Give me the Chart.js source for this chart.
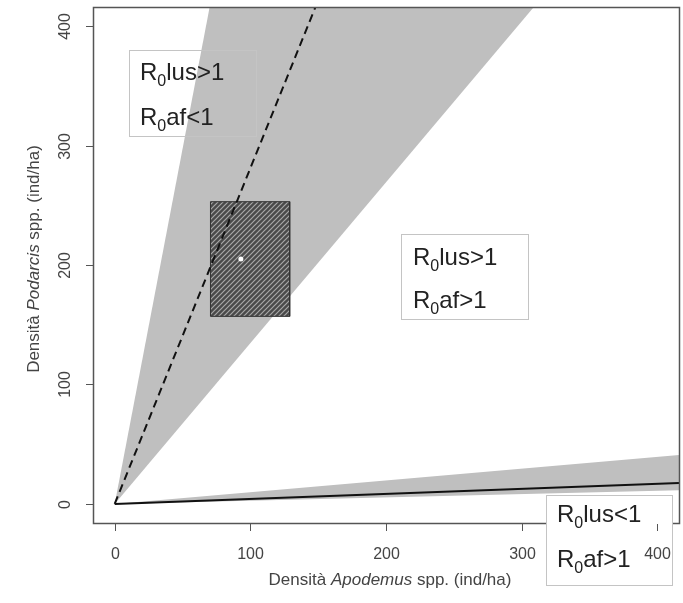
<!DOCTYPE html>
<html>
<head>
<meta charset="utf-8">
<script src="https://cdn.jsdelivr.net/npm/chart.js@4"></script>
<style>
  body { margin: 0; background: #fff; }
  .wrap { width: 683px; height: 603px; position: relative; }
</style>
</head>
<body>
<div class="wrap"><canvas id="densityChart"></canvas></div>
<script>
// Apodemus (x) vs Podarcis (y) density, ind/ha
const axisTicks = [0, 100, 200, 300, 400];

// upper shaded wedge
const upperWedgeX = [0, 70, 309, 0];
const upperWedgeY = [0, 416, 416, 0];
// lower shaded wedge
const lowerWedgeX = [0, 416, 416, 0];
const lowerWedgeY = [0, 41, 11.5, 0];
// threshold lines
const dashedLineX = [0, 148];
const dashedLineY = [0, 416];
const solidLineX = [0, 416];
const solidLineY = [0, 17.5];
// observed range (hatched box) and mean
const rangeX = [70.6, 70.6, 129, 129, 70.6];
const rangeY = [157, 253, 253, 157, 157];
const meanX = [93];
const meanY = [205];

const FONT = '"Liberation Sans", Arial, sans-serif';

const pts = (xs, ys) => xs.map((x, i) => ({ x: x, y: ys[i] }));

function hatchPattern() {
  const c = document.createElement('canvas');
  c.width = 5;
  c.height = 5;
  const g = c.getContext('2d');
  g.fillStyle = '#4a4a4a';
  g.fillRect(0, 0, 5, 5);
  g.strokeStyle = '#a8a8a8';
  g.lineWidth = 1.2;
  g.beginPath();
  g.moveTo(0, 5); g.lineTo(5, 0);
  g.moveTo(-1, 1); g.lineTo(1, -1);
  g.moveTo(4, 6); g.lineTo(6, 4);
  g.stroke();
  return g.createPattern(c, 'repeat');
}

// text boxes with the R0 conditions
const regionBoxes = [
  { left: 129.5, top: 50.5, w: 127, h: 86, x: 140, y1: 80, y2: 125, l1: 'lus>1', l2: 'af<1', fill: false },
  { left: 401.5, top: 234.5, w: 127, h: 85, x: 413, y1: 265, y2: 308, l1: 'lus>1', l2: 'af>1', fill: false },
  { left: 546.5, top: 495.5, w: 126, h: 90, x: 557, y1: 522, y2: 567, l1: 'lus<1', l2: 'af>1', fill: true }
];

function drawR0(ctx, x, y, rest) {
  ctx.textAlign = 'left';
  ctx.textBaseline = 'alphabetic';
  ctx.font = '24px ' + FONT;
  ctx.fillText('R', x, y);
  let w = ctx.measureText('R').width;
  ctx.font = '16px ' + FONT;
  ctx.fillText('0', x + w, y + 6);
  w += ctx.measureText('0').width;
  ctx.font = '24px ' + FONT;
  ctx.fillText(rest, x + w, y);
}

function drawParts(ctx, parts, cx, cy) {
  const f = it => (it ? 'italic ' : '') + '17px ' + FONT;
  let total = 0;
  parts.forEach(p => { ctx.font = f(p[1]); total += ctx.measureText(p[0]).width; });
  let x = cx - total / 2;
  parts.forEach(p => {
    ctx.font = f(p[1]);
    ctx.fillText(p[0], x, cy);
    x += ctx.measureText(p[0]).width;
  });
}

const axesPlugin = {
  id: 'rAxes',
  afterDraw(chart) {
    const ctx = chart.ctx;
    const a = chart.chartArea;
    const xs = chart.scales.x;
    const ys = chart.scales.y;
    ctx.save();

    // plot frame
    ctx.strokeStyle = '#555';
    ctx.lineWidth = 1.5;
    ctx.strokeRect(a.left + 0.5, a.top + 0.5, a.right - a.left, a.bottom - a.top);

    // condition boxes
    regionBoxes.forEach(b => {
      if (b.fill) {
        ctx.fillStyle = '#fff';
        ctx.fillRect(b.left, b.top, b.w, b.h);
      }
      ctx.strokeStyle = '#c4c4c4';
      ctx.lineWidth = 1;
      ctx.strokeRect(b.left, b.top, b.w, b.h);
      ctx.fillStyle = '#222';
      drawR0(ctx, b.x, b.y1, b.l1);
      drawR0(ctx, b.x, b.y2, b.l2);
    });

    // ticks and tick labels
    ctx.strokeStyle = '#555';
    ctx.lineWidth = 1;
    ctx.fillStyle = '#444';
    ctx.font = '16px ' + FONT;
    ctx.textAlign = 'center';
    ctx.textBaseline = 'middle';
    axisTicks.forEach(v => {
      const px = Math.round(xs.getPixelForValue(v)) + 0.5;
      ctx.beginPath();
      ctx.moveTo(px, a.bottom + 1);
      ctx.lineTo(px, a.bottom + 8);
      ctx.stroke();
      ctx.fillText(String(v), px, a.bottom + 32);

      const py = Math.round(ys.getPixelForValue(v)) + 0.5;
      ctx.beginPath();
      ctx.moveTo(a.left - 7, py);
      ctx.lineTo(a.left, py);
      ctx.stroke();
      ctx.save();
      ctx.translate(a.left - 27, py);
      ctx.rotate(-Math.PI / 2);
      ctx.fillText(String(v), 0, 0);
      ctx.restore();
    });

    // axis titles
    ctx.fillStyle = '#444';
    ctx.textAlign = 'left';
    drawParts(ctx, [['Densità ', false], ['Apodemus', true], [' spp. (ind/ha)', false]],
      (a.left + a.right) / 2 + 4, a.bottom + 57);
    ctx.save();
    ctx.translate(a.left - 59, (a.top + a.bottom) / 2 - 6);
    ctx.rotate(-Math.PI / 2);
    drawParts(ctx, [['Densità ', false], ['Podarcis', true], [' spp. (ind/ha)', false]], 0, 0);
    ctx.restore();

    ctx.restore();
  }
};

new Chart(document.getElementById('densityChart'), {
  type: 'line',
  data: {
    datasets: [
      {
        data: pts(upperWedgeX, upperWedgeY),
        fill: 'shape',
        backgroundColor: '#bfbfbf',
        borderColor: 'transparent',
        pointRadius: 0,
        order: 6
      },
      {
        data: pts(lowerWedgeX, lowerWedgeY),
        fill: 'shape',
        backgroundColor: '#bfbfbf',
        borderColor: 'transparent',
        pointRadius: 0,
        order: 5
      },
      {
        data: pts(rangeX, rangeY),
        fill: 'shape',
        backgroundColor: hatchPattern(),
        borderColor: '#333',
        borderWidth: 1,
        pointRadius: 0,
        order: 4
      },
      {
        data: pts(dashedLineX, dashedLineY),
        borderColor: '#111',
        borderWidth: 2,
        borderDash: [8, 5],
        pointRadius: 0,
        order: 3
      },
      {
        data: pts(solidLineX, solidLineY),
        borderColor: '#111',
        borderWidth: 2,
        pointRadius: 0,
        order: 2
      },
      {
        data: pts(meanX, meanY),
        showLine: false,
        pointRadius: 2.5,
        pointBorderWidth: 0,
        pointBackgroundColor: '#fff',
        order: 1
      }
    ]
  },
  options: {
    responsive: true,
    maintainAspectRatio: false,
    animation: false,
    events: [],
    layout: { padding: { left: 93, right: 3, top: 7, bottom: 80 } },
    scales: {
      x: { type: 'linear', min: -16, max: 416, display: false },
      y: { type: 'linear', min: -16, max: 416, display: false }
    },
    plugins: {
      legend: { display: false },
      tooltip: { enabled: false }
    }
  },
  plugins: [axesPlugin]
});
</script>
</body>
</html>
